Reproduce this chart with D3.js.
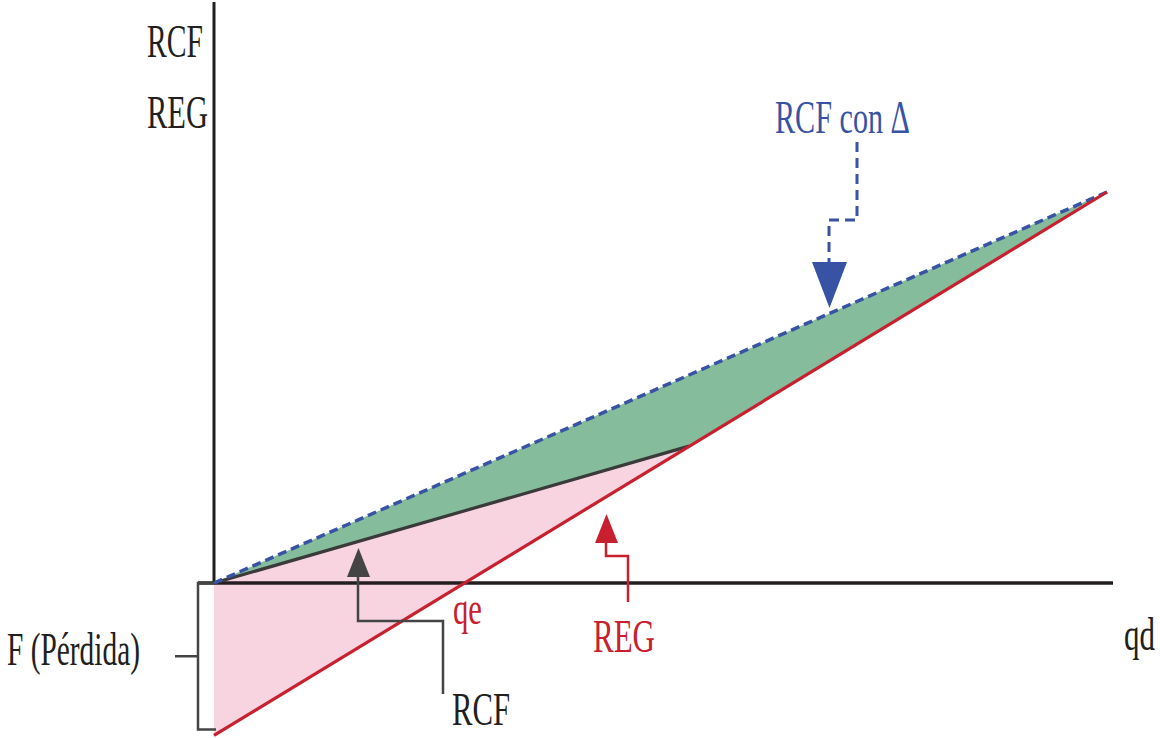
<!DOCTYPE html>
<html>
<head>
<meta charset="utf-8">
<script src="https://cdn.jsdelivr.net/npm/d3@7"></script>
<style>
  html, body { margin: 0; padding: 0; background: #fff; }
  svg { display: block; }
  text { font-family: "Liberation Serif", "DejaVu Serif", serif; }
</style>
</head>
<body>
<svg id="chart" width="1160" height="738"></svg>
<script>
// Quantity axis (qd) and value axis, in model units
const qDomain = [0, 10];
const vDomain = [0, 10];

// Fixed cost (loss at zero output)
const fixedCost = 3.9;

// REG: revenue line, starts at -F and rises to the top-right corner
const regQ = [0, 10];
const regV = [-fixedCost, 10];

// RCF: original line, from origin up to where it meets REG
const rcfQ = [0, 5.32];
const rcfV = [0, 3.5];

// RCF con Δ: shifted line, from origin to the same end point as REG
const rcfDeltaQ = [0, 10];
const rcfDeltaV = [0, 10];

const labels = {
  axisTop1: "RCF", axisTop2: "REG", loss: "F (Pérdida)", qd: "qd",
  qe: "qe", reg: "REG", rcf: "RCF", rcfDelta: "RCF con Δ"
};

const colors = {
  axis: "#231f20", rcf: "#3a3a3a", reg: "#c8202f", blue: "#3953a4",
  green: "#84bc9c", pink: "#f7d4e0", note: "#444"
};

const svg = d3.select("#chart");
const x = d3.scaleLinear().domain(qDomain).range([214, 1107]);
const y = d3.scaleLinear().domain(vDomain).range([583, 192]);

const pts = (qs, vs) => qs.map((q, i) => [q, vs[i]]);
const reg = pts(regQ, regV);
const rcf = pts(rcfQ, rcfV);
const rcfD = pts(rcfDeltaQ, rcfDeltaV);
const line = d3.line().x(d => x(d[0])).y(d => y(d[1]));

// Green area: between RCF con Δ above and RCF / REG below
const greenPoly = [rcfD[0], rcfD[1], rcf[1], rcf[0]];
svg.append("path").attr("d", line(greenPoly) + "Z").attr("fill", colors.green);

// Pink area: between RCF and REG, including the loss zone under the axis
const pinkPoly = [[0, 0], rcf[1], reg[0]];
svg.append("path").attr("d", line(pinkPoly) + "Z").attr("fill", colors.pink);

// Axes
svg.append("line")
  .attr("x1", x(0)).attr("x2", x(0))
  .attr("y1", 2).attr("y2", y(0))
  .attr("stroke", colors.axis).attr("stroke-width", 3);
svg.append("line")
  .attr("x1", 198).attr("x2", 1113)
  .attr("y1", y(0)).attr("y2", y(0))
  .attr("stroke", colors.axis).attr("stroke-width", 3.5);

// Bracket marking the fixed-cost loss
const bTop = y(0), bBot = y(-fixedCost) - 6;
svg.append("path")
  .attr("d", `M${x(0)},${bTop} H198 V${bBot} H${x(0) + 2}`)
  .attr("fill", "none").attr("stroke", colors.note).attr("stroke-width", 2.5);
svg.append("line")
  .attr("x1", 175).attr("x2", 198)
  .attr("y1", (bTop + bBot) / 2).attr("y2", (bTop + bBot) / 2)
  .attr("stroke", colors.note).attr("stroke-width", 2.5);

// Lines
svg.append("path").attr("d", line(rcf)).attr("fill", "none")
  .attr("stroke", colors.rcf).attr("stroke-width", 3.2);
svg.append("path").attr("d", line(rcfD)).attr("fill", "none")
  .attr("stroke", colors.blue).attr("stroke-width", 3.5)
  .attr("stroke-dasharray", "9,5");
svg.append("path").attr("d", line(reg)).attr("fill", "none")
  .attr("stroke", colors.reg).attr("stroke-width", 3.2);

// Condensed serif labels: squeeze horizontally to the wanted width
function label(txt, xp, yp, width, color, size = 47) {
  const t = svg.append("text")
    .attr("x", 0).attr("y", 0)
    .attr("font-size", size)
    .attr("fill", color)
    .text(txt);
  const natural = t.node().getComputedTextLength() || width;
  t.attr("transform", `translate(${xp},${yp}) scale(${width / natural},1)`);
}
label(labels.axisTop1, 147, 57, 56, "#231f20");
label(labels.axisTop2, 147, 128, 61, "#231f20");
label(labels.loss, 7, 665, 133, "#231f20");
label(labels.qd, 1124, 650, 31, "#231f20", 46);
label(labels.qe, 453, 624, 29, colors.reg);
label(labels.reg, 593, 652, 62, colors.reg);
label(labels.rcf, 452, 725, 58, "#231f20");
label(labels.rcfDelta, 775, 133, 135, colors.blue, 46);

// Pointer: RCF con Δ (dashed, arrow down)
svg.append("path")
  .attr("d", "M857,142 V220 H829 V264")
  .attr("fill", "none").attr("stroke", colors.blue).attr("stroke-width", 3)
  .attr("stroke-dasharray", "10,6");
svg.append("path")
  .attr("d", "M812,262 L847,262 L829.5,308 Z").attr("fill", colors.blue);

// Pointer: RCF (arrow up)
svg.append("path")
  .attr("d", "M358,575 V621 H443 V694")
  .attr("fill", "none").attr("stroke", colors.note).attr("stroke-width", 2.5);
svg.append("path")
  .attr("d", "M347,577 L370,577 L358.5,548 Z").attr("fill", colors.note);

// Pointer: REG (arrow up)
svg.append("path")
  .attr("d", "M606,541 V556 H628 V602")
  .attr("fill", "none").attr("stroke", colors.reg).attr("stroke-width", 2.5);
svg.append("path")
  .attr("d", "M595,543 L618,543 L606.5,514 Z").attr("fill", colors.reg);
</script>
</body>
</html>
